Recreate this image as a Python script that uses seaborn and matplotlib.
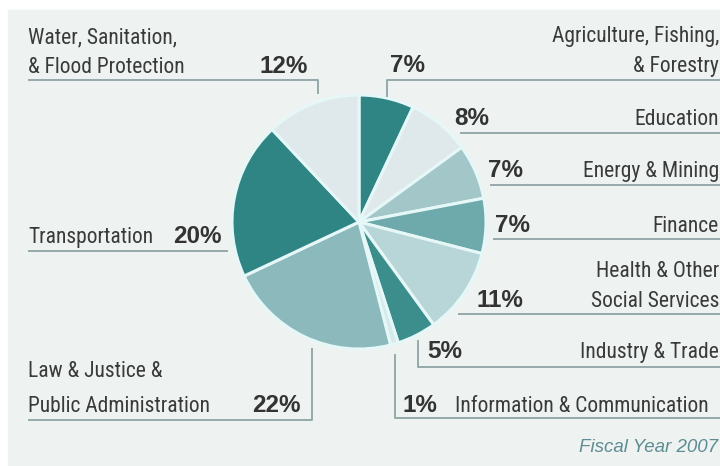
import matplotlib
matplotlib.use("Agg")
import matplotlib.pyplot as plt
import matplotlib.patches as mpatches
import seaborn as sns

# Data (clockwise from 12 o'clock)
sectors = ["Agriculture, Fishing,\n& Forestry", "Education", "Energy & Mining", "Finance",
           "Health & Other\nSocial Services", "Industry & Trade", "Information & Communication",
           "Law & Justice &\nPublic Administration", "Transportation",
           "Water, Sanitation,\n& Flood Protection"]
shares = [7, 8, 7, 7, 11, 5, 1, 22, 20, 12]
colors = ["#2f8584", "#dfe9eb", "#a3c7c9", "#6ea9ab", "#b8d5d8",
          "#3c8e8d", "#d4eaec", "#8bb9bc", "#2f8584", "#dfe8eb"]

sns.set_theme(style="white")
plt.rcParams['font.family'] = ['Roboto Condensed', 'Liberation Sans', 'DejaVu Sans']

fig = plt.figure(figsize=(7.2, 4.66), dpi=100)
ax = fig.add_axes([0, 0, 1, 1])

# panel background
ax.add_patch(mpatches.Rectangle((8, 10), 712, 456, color="#eef3f1", zorder=0))

ax.pie(shares, colors=colors, startangle=-90, counterclock=True,
       center=(359, 222), radius=127, frame=True,
       wedgeprops=dict(edgecolor="#e6f7f7", linewidth=2.2))
ax.set_xlim(0, 720)
ax.set_ylim(466, 0)
ax.set_aspect("equal")
ax.axis("off")

lc = "#8ea4a5"
lw = 1.3
txt = "#3a3a3a"
ns = 15.5
bs = 17.5

def line(xs, ys):
    ax.plot(xs, ys, color=lc, lw=lw, solid_capstyle="butt", zorder=1)

# leader lines
line([28, 318, 318], [80, 80, 94])              # water
line([387, 387, 720], [97, 80, 80])             # agriculture
line([460, 720], [133, 133])                    # education
line([490, 720], [185, 185])                    # energy
line([493, 720], [239, 239])                    # finance
line([458, 720], [314, 314])                    # health
line([418, 418, 720], [340, 367, 367])          # industry
line([395, 395, 720], [354, 418, 418])          # information
line([312, 312, 28], [348, 420, 420])           # law
line([28, 228], [251, 251])                     # transportation

def label(x, ys, s, ha="left"):
    for y, part in zip(ys, s.split("\n")):
        ax.text(x, y, part, ha=ha, va="baseline", fontsize=ns, color=txt)

def pct(x, y, v, ha="left"):
    ax.text(x, y, f"{v}%", ha=ha, va="baseline", fontsize=bs, color="#333333",
            fontweight="bold", family=["Liberation Sans", "DejaVu Sans"])

# left side
label(28, [43, 73], sectors[9])
pct(308, 73, shares[9], ha="right")
label(28, [243], sectors[8])
pct(173, 243, shares[8])
label(28, [377, 412], sectors[7])
pct(252, 412, shares[7])

# right side
pct(390, 72, shares[0])
label(719, [42, 72], sectors[0], ha="right")
pct(454, 125, shares[1])
label(719, [125], sectors[1], ha="right")
pct(488, 177, shares[2])
label(719, [177], sectors[2], ha="right")
pct(495, 232, shares[3])
label(719, [232], sectors[3], ha="right")
label(719, [277, 307], sectors[4], ha="right")
pct(477, 307, shares[4])
pct(427, 358, shares[5])
label(719, [358], sectors[5], ha="right")
pct(403, 412, shares[6])
label(455, [412], sectors[6])

ax.text(718, 452, "Fiscal Year 2007", ha="right", va="baseline", fontsize=13.5,
        color="#5d8c93", style="italic", family=["Liberation Sans", "DejaVu Sans"])

fig.savefig("out.png", dpi=100, facecolor="white")
